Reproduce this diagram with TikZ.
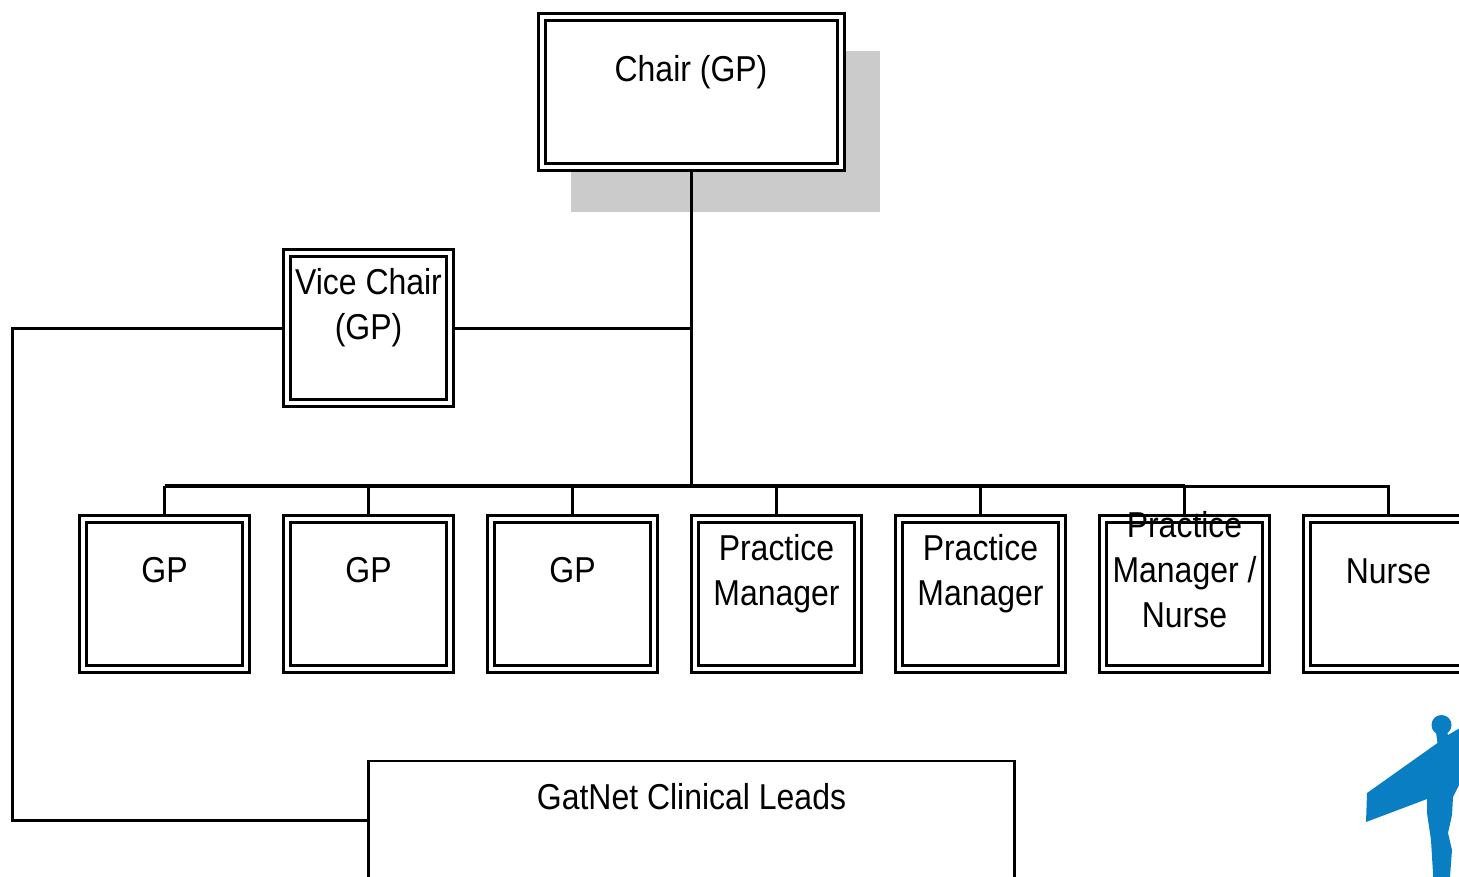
\documentclass[tikz,border=0pt]{standalone}
\usepackage{fontspec}
\setmainfont[FakeStretch=0.888]{Liberation Sans}
\definecolor{shadowgrey}{HTML}{CBCBCB}
\definecolor{statueblue}{HTML}{0A7EC2}
\tikzset{
  x=0.75pt,y=-0.75pt,
  dbox/.style={draw=black,fill=white,double=white,line width=2.2pt,double distance=3pt,
    line join=miter,rectangle,inner sep=0pt,outer sep=3.7pt,minimum width=122.3pt,minimum height=112.6pt},
  widebox/.style={dbox,minimum width=224.8pt},
  plainbox/.style={draw=black,fill=white,line width=2.2pt,line join=miter,rectangle,inner sep=0pt,outer sep=0pt,
    minimum width=484.4pt,minimum height=135pt},
  lbl/.style={font=\fontsize{27}{33.4}\selectfont,align=center,anchor=base,inner sep=0pt,outer sep=0pt,text=black},
  conn/.style={draw=black,line width=2.8pt,line join=miter},
  thin conn/.style={draw=black,line width=2.25pt,line join=miter}
}
\begin{document}
\begin{tikzpicture}
\useasboundingbox (0,0) rectangle (1459,876);
% shadow
\fill[shadowgrey] (571,51) rectangle (880,211.5);
% boxes
\node[widebox] (chair) at (691.5,92) {};
\node[dbox] (vice) at (368.5,328) {};
\node[dbox] (gpa) at (164.5,594) {};
\node[dbox] (gpb) at (368.5,594) {};
\node[dbox] (gpc) at (572.5,594) {};
\node[dbox] (pma) at (776.5,594) {};
\node[dbox] (pmb) at (980.5,594) {};
\node[dbox] (pmn) at (1184.5,594) {};
\node[dbox] (nurse) at (1388.5,594) {};
\node[plainbox,anchor=north west] (leads) at (368.5,761) {};
% connectors
\coordinate (bus) at (691.5,486);
\draw[conn] (chair.south) -- (bus);
\draw[conn] (bus -| gpa.north) -- (bus -| pmn.north);
\draw[thin conn] (bus -| pmn.north) -- (bus -| nurse.north) -- (nurse.north);
\draw[thin conn] (bus -| gpa.north) -- (gpa.north);
\draw[thin conn] (bus -| gpb.north) -- (gpb.north);
\draw[thin conn] (bus -| gpc.north) -- (gpc.north);
\draw[thin conn] (bus -| pma.north) -- (pma.north);
\draw[thin conn] (bus -| pmb.north) -- (pmb.north);
\draw[thin conn] (bus -| pmn.north) -- (pmn.north);
\draw[thin conn] (vice.east) -- (vice.east -| chair.south);
\coordinate (leftrail) at (12,328);
\coordinate (leadsy) at (368.5,820);
\draw[thin conn] (vice.west) -- (leftrail) -- (leftrail |- leadsy) -- (leadsy);
% labels
\node[lbl] (tchair) at (691,81) {Chair (GP)};
\node[lbl] (tvice) at (368.5,339.5) {Vice Chair\\(GP)};
\node[lbl] (tgpa) at (164.5,582) {GP};
\node[lbl] (tgpb) at (368.5,582) {GP};
\node[lbl] (tgpc) at (572.5,582) {GP};
\node[lbl] (tpma) at (776.5,605) {Practice\\Manager};
\node[lbl] (tpmb) at (980.5,605) {Practice\\Manager};
\node[lbl] (tpmn) at (1184.5,627) {Practice\\Manager /\\Nurse};
\node[lbl] (tnurse) at (1388.5,583) {Nurse};
\node[lbl] (tleads) at (691.5,809) {GatNet Clinical Leads};
% statue
\fill[statueblue] (1441.5,725) circle (10);
\fill[statueblue] (1367,793) -- (1437.5,743) -- (1436,732) -- (1447,732) -- (1448,735) -- (1470,722)
  -- (1470,775) -- (1459,785) -- (1453,797) -- (1452,815) -- (1448,833) -- (1452,850) -- (1449,890) -- (1434,890)
  -- (1431,840) -- (1427,813) -- (1427,799) -- (1366,822) -- cycle;
\end{tikzpicture}
\end{document}
